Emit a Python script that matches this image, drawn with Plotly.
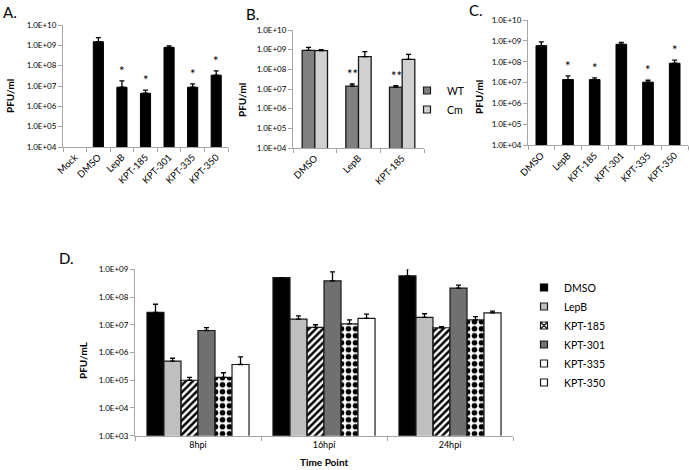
import math
import plotly.graph_objects as go

# ---------------- data ----------------
tick_vals_AC = [1e4, 1e5, 1e6, 1e7, 1e8, 1e9, 1e10]
tick_text_AC = ["1.0E+04", "1.0E+05", "1.0E+06", "1.0E+07", "1.0E+08", "1.0E+09", "1.0E+10"]
tick_vals_D = [1e3, 1e4, 1e5, 1e6, 1e7, 1e8, 1e9]
tick_text_D = ["1.0E+03", "1.0E+04", "1.0E+05", "1.0E+06", "1.0E+07", "1.0E+08", "1.0E+09"]

cats_A = ["Mock", "DMSO", "LepB", "KPT-185", "KPT-301", "KPT-335", "KPT-350"]
vals_A = [None, 1.5e9, 8.7e6, 4.4e6, 8.0e8, 8.7e6, 3.4e7]
errtop_A = [None, 2.4e9, 1.8e7, 6.3e6, 9.3e8, 1.26e7, 5.6e7]
sig_A = ["", "", "*", "*", "", "*", "*"]

cats_B = ["DMSO", "LepB", "KPT-185"]
wt_B = [9.3e8, 1.4e7, 1.26e7]
wt_err_B = [1.3e9, 1.8e7, 1.5e7]
cm_B = [9.0e8, 4.4e8, 3.2e8]
cm_err_B = [1.0e9, 8.0e8, 5.7e8]
sig_B = ["", "**", "**"]

cats_C = ["DMSO", "LepB", "KPT-185", "KPT-301", "KPT-335", "KPT-350"]
vals_C = [5.9e8, 1.4e7, 1.4e7, 6.9e8, 1.05e7, 8.5e7]
errtop_C = [8.9e8, 2.1e7, 1.7e7, 8.5e8, 1.3e7, 1.2e8]
sig_C = ["", "*", "*", "", "*", "*"]

times_D = ["8hpi", "16hpi", "24hpi"]
series_D = ["DMSO", "LepB", "KPT-185", "KPT-301", "KPT-335", "KPT-350"]
vals_D = {
    "DMSO":    [2.8e7, 5.0e8, 5.8e8],
    "LepB":    [4.9e5, 1.6e7, 1.85e7],
    "KPT-185": [1.0e5, 8.0e6, 7.8e6],
    "KPT-301": [6.2e6, 3.8e8, 2.1e8],
    "KPT-335": [1.26e5, 1.07e7, 1.5e7],
    "KPT-350": [3.7e5, 1.7e7, 2.7e7],
}
errtop_D = {
    "DMSO":    [5.5e7, 5.0e8, 1.05e9],
    "LepB":    [6.2e5, 2.1e7, 2.5e7],
    "KPT-185": [1.26e5, 1.0e7, 8.5e6],
    "KPT-301": [7.9e6, 8.1e8, 2.7e8],
    "KPT-335": [1.86e5, 1.5e7, 1.95e7],
    "KPT-350": [7.0e5, 2.4e7, 3.1e7],
}

# ---------------- styles ----------------
W, H = 690, 470
FONT = "Lato"
AXC = "#a6a6a6"
OUT = "#1a1a1a"
styles_D = {
    "DMSO":    dict(color="#000000", pattern=None, sym="square", lc="#000000"),
    "LepB":    dict(color="#bfbfbf", pattern=None, sym="square", lc=OUT),
    "KPT-185": dict(color="#ffffff", pattern=dict(shape="/", fgcolor="#000000", size=5, solidity=0.5),
                    sym="square-x", lc=OUT),
    "KPT-301": dict(color="#707070", pattern=None, sym="square", lc=OUT),
    "KPT-335": dict(color="#ffffff", pattern=dict(shape=".", fgcolor="#000000", size=7, solidity=0.5),
                    sym="square", lc=OUT),
    "KPT-350": dict(color="#ffffff", pattern=None, sym="square", lc=OUT),
}

def plus(vals, tops):
    return [None if v is None else t - v for v, t in zip(vals, tops)]

def err(vals, tops):
    return dict(type="data", symmetric=False, array=plus(vals, tops),
                arrayminus=[0] * len(vals), color="#000000", thickness=1.3, width=2.5)

def legend_swatch(name, color, legend, xa, ya, sym="square", lc=OUT):
    return go.Scatter(x=[None], y=[None], mode="markers", name=name, xaxis=xa, yaxis=ya,
                      legend=legend, hoverinfo="skip",
                      marker=dict(symbol=sym, size=7, color=color, line=dict(color=lc, width=1.2)))

fig = go.Figure()

# Panel A
fig.add_trace(go.Bar(x=cats_A, y=vals_A, xaxis="x", yaxis="y", width=0.43, offset=-0.215,
                     marker=dict(color="#000000", line=dict(color="#000000", width=1)),
                     error_y=err(vals_A, errtop_A), showlegend=False))
# Panel B
fig.add_trace(go.Bar(x=cats_B, y=wt_B, name="WT", xaxis="x2", yaxis="y2", width=0.29, offset=-0.29,
                     marker=dict(color="#808080", line=dict(color=OUT, width=1.3)),
                     error_y=err(wt_B, wt_err_B), showlegend=False))
fig.add_trace(go.Bar(x=cats_B, y=cm_B, name="Cm", xaxis="x2", yaxis="y2", width=0.29, offset=0.0,
                     marker=dict(color="#d0d0d0", line=dict(color=OUT, width=1.3)),
                     error_y=err(cm_B, cm_err_B), showlegend=False))
fig.add_trace(legend_swatch("WT", "#808080", "legend", "x2", "y2"))
fig.add_trace(legend_swatch("Cm", "#d0d0d0", "legend", "x2", "y2"))
# Panel C
fig.add_trace(go.Bar(x=cats_C, y=vals_C, xaxis="x3", yaxis="y3", width=0.4, offset=-0.2,
                     marker=dict(color="#000000", line=dict(color="#000000", width=1)),
                     error_y=err(vals_C, errtop_C), showlegend=False))
# Panel D
bw = 0.135
for i, s in enumerate(series_D):
    st = styles_D[s]
    mk = dict(color=st["color"], line=dict(color=OUT, width=1.2))
    if st["pattern"]:
        mk["pattern"] = st["pattern"]
    fig.add_trace(go.Bar(x=times_D, y=vals_D[s], name=s, xaxis="x4", yaxis="y4",
                         width=bw, offset=-3 * bw + i * bw, marker=mk,
                         error_y=err(vals_D[s], errtop_D[s]), showlegend=False))
for s in series_D:
    st = styles_D[s]
    fig.add_trace(legend_swatch(s, st["color"], "legend2", "x4", "y4", st["sym"], st["lc"]))

# significance asterisks
ann = []
def stars(xref, yref, cats, tops, sig, xshift=0):
    for c, t, s in zip(cats, tops, sig):
        if s and t:
            ann.append(dict(x=c, y=math.log10(t), xref=xref, yref=yref, text=s, showarrow=False,
                            yanchor="bottom", xshift=xshift, yshift=0,
                            font=dict(family=FONT, size=13, color="#000")))
stars("x", "y", cats_A, errtop_A, sig_A)
stars("x2", "y2", cats_B, wt_err_B, sig_B, xshift=-6)
stars("x3", "y3", cats_C, errtop_C, sig_C)

def lab(text, x, y, size=15):
    ann.append(dict(x=x / W, y=1 - y / H, xref="paper", yref="paper", text=text, showarrow=False,
                    xanchor="left", yanchor="middle", font=dict(family=FONT, size=size, color="#000")))
lab("A.", 1, 12)
lab("B.", 244, 14)
lab("C.", 467, 10)
lab("D.", 57, 258)

def ytitle(text, x, y):
    ann.append(dict(x=x / W, y=1 - y / H, xref="paper", yref="paper", text="<b>" + text + "</b>",
                    showarrow=False, textangle=-90, xanchor="center", yanchor="middle",
                    font=dict(family=FONT, size=10, color="#000")))
ytitle("PFU/ml", 10, 96)
ytitle("PFU/ml", 242, 100)
ytitle("PFU/ml", 479, 97)
ytitle("PFU/mL", 83, 360)
ann.append(dict(x=324 / W, y=1 - 462 / H, xref="paper", yref="paper", text="<b>Time Point</b>",
                showarrow=False, xanchor="center", yanchor="middle",
                font=dict(family=FONT, size=10, color="#000")))

def xax(domain, cats, angle, anchor, size=9.5):
    return dict(domain=domain, anchor=anchor, type="category", categoryorder="array", categoryarray=cats,
                showline=True, linecolor=AXC, linewidth=1, ticks="outside", tickson="boundaries",
                ticklen=4, tickcolor=AXC, tickangle=angle, showgrid=False, zeroline=False,
                automargin=False, fixedrange=True,
                tickfont=dict(family=FONT, size=size, color="#000"), range=[-0.5, len(cats) - 0.5])

def yax(domain, rng, tv, tt, anchor):
    return dict(domain=domain, anchor=anchor, type="log", range=rng, tickvals=tv, ticktext=tt,
                showline=True, linecolor=AXC, linewidth=1, ticks="outside", ticklen=4, tickcolor=AXC,
                showgrid=False, zeroline=False, automargin=False, fixedrange=True,
                tickfont=dict(family=FONT, size=8, color="#000"))

fig.update_layout(
    template="none",
    width=W, height=H, margin=dict(l=0, r=0, t=0, b=0, pad=0),
    paper_bgcolor="white", plot_bgcolor="white", barmode="overlay",
    xaxis=xax([63 / W, 228 / W], cats_A, -45, "y"),
    yaxis=yax([1 - 147 / H, 1 - 25 / H], [4, 10], tick_vals_AC, tick_text_AC, "x"),
    xaxis2=xax([293 / W, 424 / W], cats_B, -45, "y2"),
    yaxis2=yax([1 - 148 / H, 1 - 30 / H], [4, 10], tick_vals_AC, tick_text_AC, "x2"),
    xaxis3=xax([528 / W, 688 / W], cats_C, -45, "y3"),
    yaxis3=yax([1 - 145.3 / H, 1 - 20 / H], [4, 10], tick_vals_AC, tick_text_AC, "x3"),
    xaxis4=xax([135 / W, 513 / W], times_D, 0, "y4", size=9),
    yaxis4=yax([1 - 435.7 / H, 1 - 269.3 / H], [3, 9], tick_vals_D, tick_text_D, "x4"),
    legend=dict(x=407 / W, y=1 - 76 / H, xanchor="left", yanchor="top", bgcolor="rgba(0,0,0,0)",
                font=dict(family=FONT, size=10.5, color="#000"), itemwidth=30, tracegroupgap=0),
    legend2=dict(x=524 / W, y=1 - 273 / H, xanchor="left", yanchor="top", bgcolor="rgba(0,0,0,0)",
                 font=dict(family=FONT, size=10.5, color="#000"), itemwidth=30, tracegroupgap=0),
    annotations=ann,
)

fig.write_html("out.html", config={"displayModeBar": False},
               post_script="document.body.style.margin='0';document.body.style.overflow='hidden';")
